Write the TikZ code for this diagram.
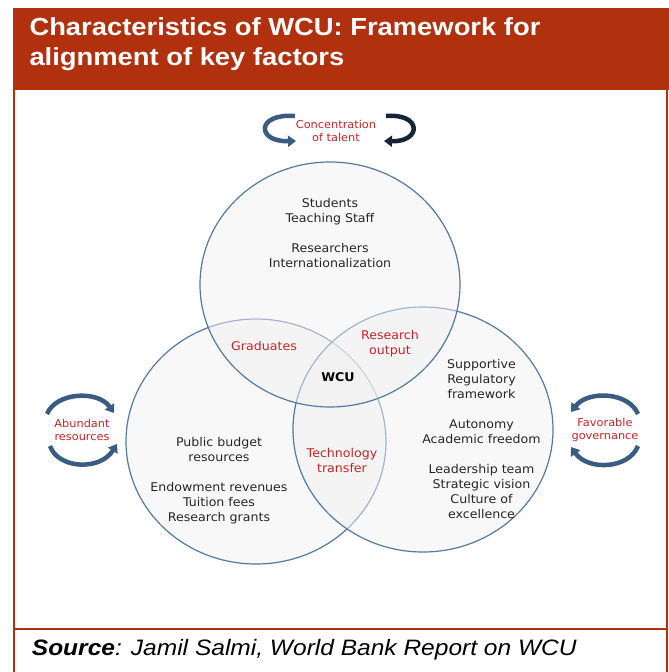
\documentclass[tikz,border=0pt]{standalone}
\usepackage{fontspec}
\setmainfont{DejaVu Sans}[FakeStretch=1.05]
\newfontfamily\titlefont{Liberation Sans}[FakeStretch=1.108]
\newfontfamily\srcfont{Liberation Sans}[FakeStretch=1.1]
\usetikzlibrary{arrows.meta}
\definecolor{banner}{RGB}{177,48,14}
\definecolor{ring}{RGB}{84,121,163}
\definecolor{lblred}{RGB}{200,36,40}
\definecolor{bodytxt}{RGB}{38,38,38}
\definecolor{arrowblue}{RGB}{58,92,130}
\definecolor{arrowdark}{RGB}{22,36,58}
\begin{document}
\begin{tikzpicture}[x=1pt,y=-1pt,
  body/.style={font=\fontsize{12}{15}\selectfont, text=bodytxt, align=center, inner sep=0pt},
  redlbl/.style={font=\fontsize{12}{15}\selectfont, text=lblred, align=center, inner sep=0pt},
  sidelbl/.style={font=\fontsize{10.8}{13.5}\selectfont, text=lblred, align=center, inner sep=0pt},
  setc/.style={fill=gray!10, fill opacity=0.5, draw=ring, line width=1.2pt},
  curl/.style={line width=4.5pt, draw=arrowblue, -{Triangle[width=11pt,length=8pt]}},
  frameline/.style={draw=banner, line width=2pt},
]
\useasboundingbox (0,0) rectangle (669,672);
\fill[white] (0,0) rectangle (669,672);

% frame
\fill[banner] (13,8.3) rectangle (669,90);
\coordinate (fl1) at (14,90);
\coordinate (fl2) at (14,672);
\coordinate (fr1) at (667,90);
\coordinate (fr2) at (667,672);
\coordinate (fh1) at (14,629.3);
\coordinate (fh2) at (667,629.3);
\draw[frameline] (fl1) -- (fl2);
\draw[frameline] (fr1) -- (fr2);
\draw[frameline] (fh1) -- (fh2);

\node[anchor=north west, inner sep=0pt, align=left, text=white,
      font=\titlefont\bfseries\fontsize{24.7}{30.7}\selectfont] (title) at (29.3,17)
  {Characteristics of WCU: Framework for\\alignment of key factors};

\node[anchor=base west, inner sep=0pt, text=black,
      font=\srcfont\itshape\fontsize{22.3}{26}\selectfont] (source) at (31.7,655)
  {\textbf{Source}: Jamil Salmi, World Bank Report on WCU};

% sets
\draw[setc] (256,441.5) ellipse [x radius=130pt, y radius=122.5pt];
\draw[setc] (423,429.5) ellipse [x radius=130pt, y radius=122.5pt];
\draw[setc] (330,284.5) ellipse [x radius=130pt, y radius=122.5pt];

% texts in sets
\node[body] (talent) at (330,233) {Students\\Teaching Staff\\[15pt]Researchers\\Internationalization};
\node[body] (resources) at (219,481) {Public budget\\resources\\[15pt]Endowment revenues\\Tuition fees\\Research grants};
\node[body] (governance) at (481.5,439) {Supportive\\Regulatory\\framework\\[15pt]Autonomy\\Academic freedom\\[15pt]Leadership team\\Strategic vision\\Culture of\\excellence};

\node[redlbl] (grad) at (264,346) {Graduates};
\node[redlbl] (resout) at (390,344) {Research\\output};
\node[redlbl] (tech) at (342,461) {Technology\\transfer};
\node[body, font=\bfseries\fontsize{12}{15}\selectfont, text=black] (wcu) at (338,377) {WCU};

% outside labels
\node[sidelbl] (conc) at (336,131) {Concentration\\of talent};
\node[sidelbl] (abund) at (82,430) {Abundant\\resources};
\node[sidelbl] (fav) at (605,430) {Favorable\\governance};

% curled arrows
\draw[curl] (295,116) .. controls (256,113) and (256,142) .. (296,141);
\draw[curl, draw=arrowdark] (386,116) .. controls (422,113) and (422,142) .. (384,141);
\draw[curl] (47,414) .. controls (56,392) and (98,390) .. (114,413);
\draw[curl] (50,446) .. controls (58,469) and (100,471) .. (117,444);
\draw[curl] (638,414) .. controls (629,392) and (588,390) .. (571,412);
\draw[curl] (638,446) .. controls (629,469) and (588,471) .. (571,447);
\end{tikzpicture}
\end{document}
